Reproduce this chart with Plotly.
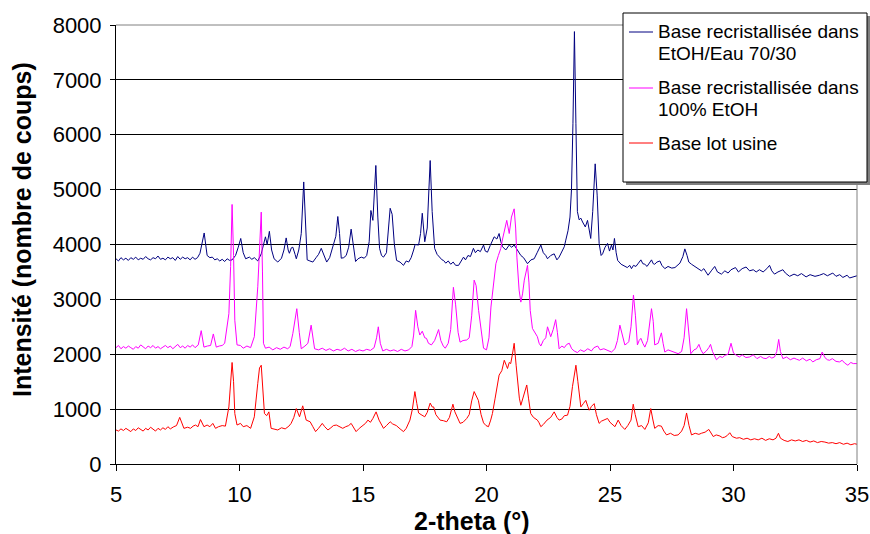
import plotly.graph_objects as go

# ---- data (2-theta in degrees, intensity in counts) ----
blue_pts = [
(5.0,3740),(5.1,3700),(5.2,3760),(5.3,3720),(5.4,3750),(5.5,3710),(5.6,3760),(5.7,3730),(5.8,3770),(5.9,3720),
(6.0,3750),(6.1,3730),(6.2,3780),(6.3,3740),(6.4,3720),(6.5,3760),(6.6,3740),(6.7,3790),(6.8,3730),(6.9,3750),
(7.0,3720),(7.1,3770),(7.2,3740),(7.3,3760),(7.4,3710),(7.5,3780),(7.6,3730),(7.7,3770),(7.8,3740),(7.9,3760),
(8.0,3720),(8.1,3770),(8.2,3730),(8.3,3760),(8.4,3840),(8.46,3960),(8.57,4210),(8.69,3800),(8.8,3760),(8.9,3770),
(9.0,3720),(9.1,3740),(9.2,3700),(9.3,3730),(9.4,3690),(9.5,3740),(9.6,3710),(9.7,3720),(9.84,3800),(9.95,3950),
(10.05,4110),(10.15,3850),(10.25,3740),(10.4,3770),(10.5,3730),(10.6,3760),(10.74,3700),(10.88,3830),(11.0,4050),
(11.05,4140),(11.12,4000),(11.21,4240),(11.3,3900),(11.4,3740),(11.55,3680),(11.7,3750),(11.8,3900),(11.89,4120),
(11.97,3900),(12.02,3840),(12.1,3940),(12.16,3950),(12.25,3820),(12.3,3740),(12.4,3900),(12.5,4200),(12.6,5140),
(12.68,4300),(12.74,3720),(12.85,3700),(12.97,3680),(13.1,3760),(13.2,3820),(13.31,3930),(13.42,3800),(13.53,3680),
(13.65,3760),(13.78,3960),(13.9,4150),(13.98,4510),(14.05,4200),(14.12,3750),(14.22,3760),(14.32,3800),(14.42,3950),
(14.52,4280),(14.6,4000),(14.7,3690),(14.8,3740),(14.93,3770),(15.05,3750),(15.15,3800),(15.25,4050),(15.32,4620),
(15.4,4440),(15.52,5440),(15.6,4500),(15.67,3930),(15.75,3800),(15.83,3770),(15.95,3850),(16.03,4300),(16.1,4660),
(16.18,4550),(16.27,4000),(16.36,3710),(16.5,3680),(16.64,3620),(16.75,3700),(16.85,3680),(16.95,3760),(17.05,3900),
(17.11,4000),(17.25,3990),(17.33,4200),(17.4,4570),(17.5,4050),(17.6,4300),(17.66,4900),(17.72,5530),(17.8,4600),
(17.9,3930),(18.0,3820),(18.1,3760),(18.2,3720),(18.26,3710),(18.35,3660),(18.45,3700),(18.55,3640),(18.65,3680),
(18.75,3620),(18.87,3620),(18.97,3700),(19.07,3770),(19.15,3720),(19.25,3800),(19.35,3780),(19.47,3930),(19.55,3850),
(19.65,3900),(19.75,3870),(19.88,3990),(19.95,3880),(20.04,3860),(20.15,3980),(20.23,4050),(20.31,4140),(20.42,4100),
(20.51,4200),(20.58,4050),(20.65,3960),(20.78,3900),(20.92,3990),(21.02,3950),(21.12,3990),(21.25,3900),(21.39,3800),
(21.5,3760),(21.58,3700),(21.66,3650),(21.8,3720),(21.93,3740),(22.05,3850),(22.2,3990),(22.3,3850),(22.4,3800),
(22.47,3740),(22.6,3800),(22.74,3830),(22.85,3720),(22.94,3770),(23.05,3880),(23.15,3960),(23.21,4080),(23.3,4250),
(23.38,4500),(23.44,5000),(23.5,6200),(23.56,7880),(23.62,6200),(23.68,4600),(23.75,4450),(23.82,4480),(23.89,4410),
(24.0,4320),(24.09,4440),(24.16,4250),(24.22,4110),(24.3,4600),(24.4,5470),(24.48,4900),(24.56,4020),(24.64,3800),
(24.7,3830),(24.8,3950),(24.9,4020),(24.98,3880),(25.06,3990),(25.12,3900),(25.18,4110),(25.25,3850),(25.31,3710),
(25.45,3640),(25.6,3600),(25.7,3580),(25.8,3620),(25.87,3560),(25.95,3620),(26.05,3600),(26.15,3660),(26.25,3720),
(26.33,3650),(26.41,3640),(26.5,3600),(26.6,3660),(26.68,3720),(26.75,3650),(26.81,3640),(26.9,3680),(27.02,3700),
(27.1,3620),(27.22,3560),(27.35,3600),(27.5,3570),(27.63,3580),(27.75,3620),(27.83,3660),(27.95,3780),(28.03,3920),
(28.12,3800),(28.19,3680),(28.3,3640),(28.43,3600),(28.55,3560),(28.7,3520),(28.8,3560),(28.97,3440),(29.1,3520),
(29.24,3600),(29.35,3500),(29.51,3460),(29.65,3520),(29.78,3480),(29.9,3540),(30.08,3580),(30.2,3500),(30.35,3560),
(30.51,3590),(30.65,3520),(30.8,3540),(30.92,3500),(31.05,3540),(31.2,3500),(31.35,3560),(31.46,3620),(31.55,3520),
(31.66,3460),(31.8,3500),(32.0,3540),(32.1,3480),(32.27,3420),(32.45,3460),(32.6,3430),(32.75,3470),(32.94,3410),
(33.1,3450),(33.3,3420),(33.48,3440),(33.65,3470),(33.8,3430),(34.02,3480),(34.15,3420),(34.3,3450),(34.43,3400),
(34.6,3440),(34.7,3390),(34.83,3410),(35.0,3430),
]

magenta_pts = [
(5.0,2120),(5.1,2160),(5.2,2100),(5.3,2140),(5.4,2110),(5.5,2150),(5.6,2120),(5.7,2090),(5.8,2140),(5.9,2110),
(6.0,2170),(6.1,2130),(6.2,2100),(6.3,2150),(6.4,2120),(6.5,2160),(6.6,2110),(6.7,2140),(6.8,2100),(6.9,2130),
(7.0,2160),(7.1,2120),(7.2,2150),(7.3,2100),(7.4,2140),(7.5,2180),(7.6,2120),(7.7,2150),(7.8,2110),(7.9,2160),
(8.0,2130),(8.1,2170),(8.2,2120),(8.33,2170),(8.45,2430),(8.56,2130),(8.7,2150),(8.83,2160),(8.94,2370),(9.06,2130),
(9.18,2150),(9.3,2160),(9.4,2200),(9.47,2390),(9.57,2740),(9.64,3600),(9.7,4730),(9.76,3800),(9.81,2620),(9.9,2170),
(10.04,2160),(10.15,2110),(10.3,2150),(10.45,2120),(10.6,2320),(10.74,3230),(10.82,4000),(10.88,4590),(10.93,3500),
(10.97,2200),(11.05,2110),(11.2,2130),(11.35,2080),(11.5,2120),(11.65,2090),(11.8,2130),(11.95,2100),(12.05,2140),
(12.16,2380),(12.32,2830),(12.42,2400),(12.5,2100),(12.65,2150),(12.77,2200),(12.9,2530),(12.97,2300),(13.04,2100),
(13.2,2080),(13.35,2110),(13.5,2070),(13.65,2100),(13.8,2060),(13.95,2090),(14.1,2070),(14.25,2110),(14.4,2060),
(14.55,2090),(14.7,2050),(14.85,2080),(15.0,2060),(15.15,2090),(15.3,2070),(15.45,2120),(15.55,2300),(15.62,2500),
(15.7,2200),(15.8,2060),(15.95,2090),(16.1,2060),(16.25,2080),(16.4,2050),(16.55,2090),(16.7,2060),(16.85,2080),
(16.98,2140),(17.05,2350),(17.13,2800),(17.22,2500),(17.3,2350),(17.4,2420),(17.5,2300),(17.57,2290),(17.65,2200),
(17.77,2170),(17.9,2250),(18.06,2450),(18.15,2250),(18.25,2150),(18.33,2110),(18.45,2200),(18.55,2450),(18.66,3220),
(18.75,2900),(18.85,2400),(18.93,2220),(19.05,2250),(19.2,2260),(19.3,2300),(19.4,2700),(19.5,3350),(19.58,3250),
(19.68,2800),(19.78,2400),(19.88,2110),(20.0,2080),(20.1,2300),(20.18,2860),(20.28,3300),(20.38,3650),(20.48,3800),
(20.58,3930),(20.65,4100),(20.72,4260),(20.82,4440),(20.92,4200),(21.01,4500),(21.12,4650),(21.18,4300),(21.23,3770),
(21.32,3170),(21.39,2950),(21.46,3100),(21.53,3350),(21.6,3500),(21.66,3620),(21.72,3300),(21.77,2800),(21.86,2470),
(21.95,2400),(22.06,2320),(22.13,2200),(22.2,2150),(22.3,2250),(22.4,2300),(22.47,2500),(22.55,2400),(22.6,2320),
(22.7,2450),(22.8,2630),(22.87,2400),(22.94,2100),(23.05,2150),(23.15,2120),(23.25,2180),(23.35,2200),(23.45,2100),
(23.55,2060),(23.68,2030),(23.8,2080),(23.95,2050),(24.1,2100),(24.25,2060),(24.35,2120),(24.5,2150),(24.6,2080),
(24.75,2100),(24.9,2070),(25.06,2040),(25.2,2100),(25.3,2250),(25.4,2530),(25.5,2350),(25.6,2170),(25.7,2200),
(25.76,2230),(25.85,2500),(25.95,3080),(26.03,2700),(26.11,2170),(26.18,2250),(26.25,2290),(26.33,2200),(26.41,2130),
(26.52,2250),(26.62,2600),(26.68,2830),(26.75,2600),(26.81,2170),(26.95,2200),(27.08,2390),(27.15,2200),(27.22,2040),
(27.35,2080),(27.49,2060),(27.6,2030),(27.76,2010),(27.9,2050),(28.0,2300),(28.1,2830),(28.18,2500),(28.27,2010),
(28.4,2080),(28.5,2100),(28.6,2180),(28.68,2080),(28.77,2010),(28.9,2060),(29.0,2120),(29.07,2180),(29.15,2050),
(29.31,1900),(29.45,1960),(29.55,1940),(29.65,1980),(29.78,2000),(29.9,2200),(30.0,2020),(30.12,1980),(30.24,1950),
(30.35,1990),(30.5,1940),(30.65,1950),(30.8,1990),(30.95,1920),(31.1,1960),(31.2,1930),(31.32,1920),(31.45,1960),
(31.55,1930),(31.66,1950),(31.75,2050),(31.83,2270),(31.9,2050),(32.0,1920),(32.15,1950),(32.3,1900),(32.45,1930),
(32.55,1910),(32.67,1890),(32.8,1930),(32.95,1880),(33.1,1910),(33.21,1860),(33.35,1900),(33.5,1920),(33.59,2040),
(33.7,1940),(33.8,1900),(33.89,1890),(34.0,1920),(34.15,1870),(34.29,1860),(34.4,1890),(34.5,1840),(34.63,1800),
(34.75,1850),(34.85,1830),(35.0,1830),
]

red_pts = [
(5.0,620),(5.1,600),(5.2,640),(5.3,610),(5.4,650),(5.5,620),(5.6,590),(5.7,640),(5.8,610),(5.9,660),
(6.0,630),(6.1,600),(6.2,650),(6.3,620),(6.4,670),(6.5,630),(6.6,600),(6.7,650),(6.8,620),(6.9,660),
(7.0,630),(7.1,680),(7.2,640),(7.34,680),(7.45,700),(7.58,850),(7.68,720),(7.75,650),(7.9,670),(8.02,650),
(8.12,690),(8.22,710),(8.32,680),(8.42,810),(8.56,680),(8.69,710),(8.8,680),(8.92,740),(9.03,650),(9.15,680),
(9.3,700),(9.43,690),(9.57,1040),(9.64,1500),(9.7,1850),(9.76,1500),(9.81,920),(9.9,710),(10.04,740),(10.15,680),
(10.3,700),(10.45,650),(10.6,860),(10.74,1470),(10.81,1750),(10.88,1800),(10.94,1400),(11.01,920),(11.1,880),
(11.19,950),(11.28,650),(11.4,640),(11.55,620),(11.7,660),(11.85,640),(12.0,690),(12.09,740),(12.2,850),(12.3,1010),
(12.43,860),(12.56,1060),(12.7,800),(12.86,770),(12.97,680),(13.08,590),(13.2,650),(13.35,740),(13.45,680),
(13.58,620),(13.7,660),(13.8,700),(13.92,710),(14.05,680),(14.18,650),(14.3,680),(14.42,700),(14.52,740),(14.62,660),
(14.72,590),(14.85,650),(15.0,700),(15.1,740),(15.2,800),(15.3,760),(15.4,830),(15.53,950),(15.65,800),(15.75,720),
(15.83,650),(15.95,700),(16.1,770),(16.2,730),(16.35,700),(16.5,640),(16.64,590),(16.75,650),(16.9,800),(17.0,1000),
(17.1,1320),(17.18,1100),(17.25,930),(17.35,900),(17.5,860),(17.6,940),(17.72,1110),(17.8,1040),(17.86,1040),
(17.95,900),(18.05,840),(18.12,800),(18.25,790),(18.39,770),(18.5,850),(18.64,1090),(18.72,950),(18.85,800),
(18.93,740),(19.05,760),(19.2,830),(19.3,900),(19.4,1150),(19.5,1320),(19.58,1250),(19.67,1160),(19.78,900),
(19.88,750),(19.98,700),(20.08,680),(20.17,800),(20.24,920),(20.35,1200),(20.45,1450),(20.51,1620),(20.62,1700),
(20.72,1890),(20.8,1800),(20.85,1740),(20.92,1850),(20.98,1830),(21.05,2000),(21.12,2200),(21.2,1800),(21.26,1470),
(21.33,1200),(21.39,1070),(21.5,1250),(21.57,1350),(21.63,1440),(21.7,1200),(21.79,920),(21.9,850),(22.06,800),
(22.13,750),(22.2,680),(22.3,720),(22.45,800),(22.6,850),(22.74,950),(22.85,850),(22.94,800),(23.05,820),(23.15,880),
(23.28,890),(23.38,1050),(23.48,1410),(23.55,1650),(23.62,1800),(23.7,1500),(23.82,1040),(23.92,1100),(24.02,1160),
(24.1,1050),(24.16,980),(24.25,1050),(24.36,1100),(24.45,900),(24.56,740),(24.65,780),(24.75,800),(24.9,830),
(25.0,760),(25.06,740),(25.2,680),(25.33,800),(25.45,700),(25.6,630),(25.72,700),(25.85,800),(25.94,1090),(26.02,900),
(26.14,680),(26.28,700),(26.41,630),(26.55,750),(26.65,1010),(26.73,820),(26.81,650),(26.95,700),(27.08,690),
(27.18,600),(27.29,530),(27.45,560),(27.6,520),(27.76,530),(27.9,600),(28.0,700),(28.1,930),(28.2,700),(28.3,530),
(28.45,560),(28.6,540),(28.7,560),(28.85,580),(29.0,630),(29.18,500),(29.3,530),(29.45,510),(29.55,480),(29.65,490),
(29.75,520),(29.85,570),(29.95,500),(30.12,470),(30.25,480),(30.4,450),(30.55,470),(30.7,440),(30.85,460),(31.0,440),
(31.15,470),(31.3,430),(31.45,460),(31.6,440),(31.72,470),(31.82,560),(31.9,470),(32.05,430),(32.2,410),(32.35,440),
(32.5,420),(32.65,440),(32.8,410),(32.95,430),(33.1,400),(33.25,420),(33.4,390),(33.55,410),(33.7,400),(33.85,380),
(34.0,390),(34.15,370),(34.3,390),(34.45,360),(34.6,380),(34.75,350),(34.9,370),(35.0,360),
]

blue_x = [p[0] for p in blue_pts]
blue_y = [p[1] for p in blue_pts]
magenta_x = [p[0] for p in magenta_pts]
magenta_y = [p[1] for p in magenta_pts]
red_x = [p[0] for p in red_pts]
red_y = [p[1] for p in red_pts]

series_names = [
    ["Base recristallisée dans", "EtOH/Eau 70/30"],
    ["Base recristallisée dans", "100% EtOH"],
    ["Base lot usine"],
]
series_colors = ["#000080", "#FF00FF", "#FF0000"]
x_ticks = [5, 10, 15, 20, 25, 30, 35]
y_ticks = [0, 1000, 2000, 3000, 4000, 5000, 6000, 7000, 8000]
x_title = "2-theta (°)"
y_title = "Intensité (nombre de coups)"

FONT = "Arial, Liberation Sans, sans-serif"
W, H = 870, 534
PL, PR, PT, PB = 116, 857, 25, 464          # plot area in pixels
L, T, R, B = PL, PT, W - PR, H - PB
PW, PH = PR - PL, PB - PT


def px2x(px):
    return (px - PL) / PW


def py2y(py):
    return (PB - py) / PH


fig = go.Figure()
for xs, ys, name, col in zip([blue_x, magenta_x, red_x], [blue_y, magenta_y, red_y],
                             series_names, series_colors):
    fig.add_trace(go.Scatter(x=xs, y=ys, mode="lines", name=" ".join(name),
                             line=dict(color=col, width=1), showlegend=False))

shapes = [
    dict(type="line", xref="paper", yref="paper", x0=0, x1=1, y0=1, y1=1,
         line=dict(color="#808080", width=1)),
    dict(type="line", xref="paper", yref="paper", x0=1, x1=1, y0=0, y1=1,
         line=dict(color="#808080", width=1)),
    # legend shadow and box
    dict(type="rect", xref="paper", yref="paper", x0=px2x(626), x1=px2x(870),
         y0=py2y(185), y1=py2y(16), line=dict(width=0), fillcolor="#7f7f7f", layer="above"),
    dict(type="rect", xref="paper", yref="paper", x0=px2x(623), x1=px2x(867),
         y0=py2y(182), y1=py2y(13), line=dict(color="black", width=1), fillcolor="white", layer="above"),
]

annotations = [
    dict(text="<b>" + y_title + "</b>", xref="paper", yref="paper", x=px2x(22), y=py2y(230),
         xanchor="center", yanchor="middle", textangle=-90, showarrow=False,
         font=dict(family=FONT, size=25, color="black")),
    dict(text="<b>" + x_title + "</b>", xref="paper", yref="paper", x=px2x(472), y=py2y(521),
         xanchor="center", yanchor="middle", showarrow=False,
         font=dict(family=FONT, size=25, color="black")),
]

# legend entries (symbol line + text lines), drawn inside the legend box
entry_rows = [32, 88, 143]
line_gap = 21
for rows_y, lines, col in zip(entry_rows, series_names, series_colors):
    shapes.append(dict(type="line", xref="paper", yref="paper", x0=px2x(629), x1=px2x(653),
                       y0=py2y(rows_y), y1=py2y(rows_y), line=dict(color=col, width=1),
                       layer="above"))
    for i, txt in enumerate(lines):
        annotations.append(dict(text=txt, xref="paper", yref="paper", x=px2x(656),
                                y=py2y(rows_y + i * line_gap), xanchor="left", yanchor="middle",
                                showarrow=False, font=dict(family=FONT, size=19, color="black")))

fig.update_layout(
    width=W, height=H,
    margin=dict(l=L, r=R, t=T, b=B, autoexpand=False),
    paper_bgcolor="white", plot_bgcolor="white",
    font=dict(family=FONT, size=19, color="black"),
    showlegend=False,
    shapes=shapes,
    annotations=annotations,
    xaxis=dict(range=[5, 35], tickvals=x_ticks, ticktext=[str(v) for v in x_ticks],
               showgrid=False, zeroline=False, showline=True, linecolor="black", linewidth=1,
               ticks="outside", ticklen=6, tickcolor="black", ticklabelstandoff=5,
               tickfont=dict(family=FONT, size=22), automargin=False),
    yaxis=dict(range=[0, 8000], tickvals=y_ticks, ticktext=[str(v) for v in y_ticks],
               showgrid=True, gridcolor="black", gridwidth=1, zeroline=False,
               showline=True, linecolor="black", linewidth=1,
               ticks="outside", ticklen=5, tickcolor="black", ticklabelstandoff=4,
               tickfont=dict(family=FONT, size=22), automargin=False),
)

# the page would otherwise offset the figure by the body's default 8 px margin
fig.write_html("out.html", config={"displayModeBar": False},
               post_script="document.body.style.margin='0';")
